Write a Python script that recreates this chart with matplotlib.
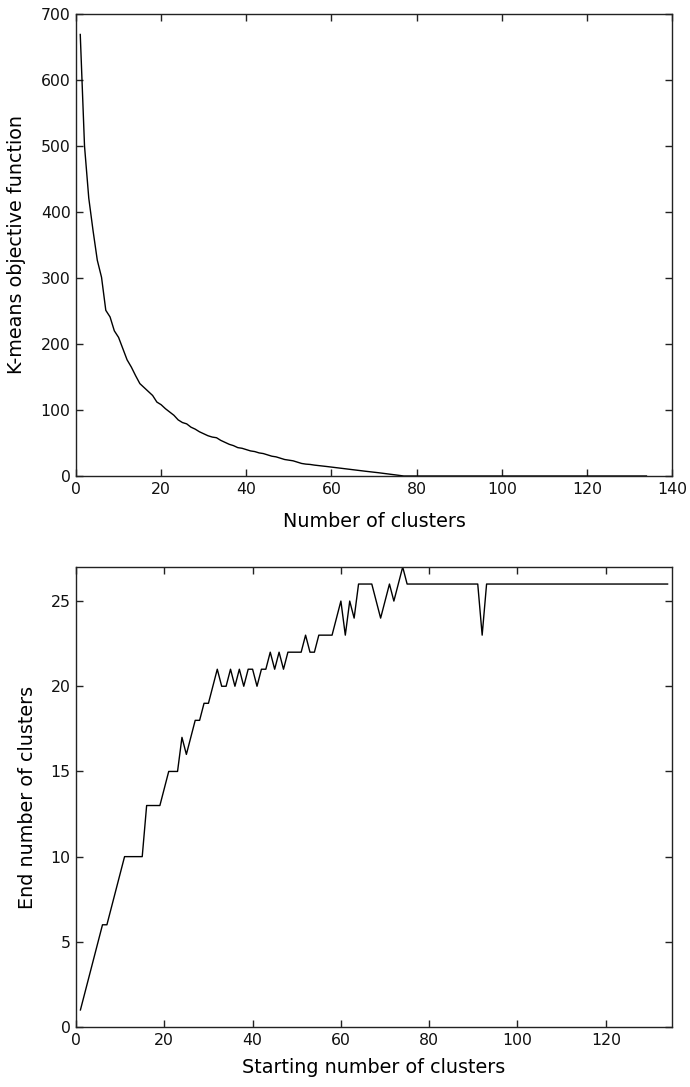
import matplotlib
matplotlib.use("Agg")
import matplotlib.pyplot as plt
import numpy as np

# Top chart: K-means objective vs number of clusters
n_clusters = list(range(1, 135))
objective_head = [669, 500, 421, 372, 327, 301, 251, 241, 220, 210,
                  193, 176, 165, 152, 140, 134, 128, 122, 112, 108,
                  102, 97, 92, 85, 81, 79, 74, 71, 67, 64,
                  61, 59, 58, 54, 51, 48, 46, 43, 42, 40,
                  38, 37, 35, 34, 32, 30, 29, 27, 25, 24,
                  23, 21, 19, 18, 17.5, 16.5, 15.8, 15, 14.3, 13.5,
                  12.7, 12, 11.2, 10.4, 9.6, 8.8, 8, 7.2, 6.5, 5.7,
                  5, 4.2, 3.4, 2.6, 1.7, 0.8]
objective = objective_head + [0] * (len(n_clusters) - len(objective_head))

# Bottom chart: end number vs starting number of clusters
start_clusters = list(range(1, 135))
end_head = [1, 2, 3, 4, 5, 6, 6, 7, 8, 9,
            10, 10, 10, 10, 10, 13, 13, 13, 13, 14,
            15, 15, 15, 17, 16, 17, 18, 18, 19, 19,
            20, 21, 20, 20, 21, 20, 21, 20, 21, 21,
            20, 21, 21, 22, 21, 22, 21, 22, 22, 22,
            22, 23, 22, 22, 23, 23, 23, 23, 24, 25,
            23, 25, 24, 26, 26, 26, 26, 25, 24, 25,
            26, 25, 26, 27]
end_mid = [26] * 17   # x = 75..91
end_dip = [23]        # x = 92
end_tail = [26] * (len(start_clusters) - len(end_head) - len(end_mid) - len(end_dip))
end_clusters = end_head + end_mid + end_dip + end_tail

plt.rcParams['font.family'] = ['DejaVu Sans']
W, H = 690, 1087
dpi = 100
fig = plt.figure(figsize=(W / dpi, H / dpi), dpi=dpi, facecolor='white')

def style(ax):
    ax.tick_params(direction='in', top=True, right=True, length=5, width=1,
                   labelsize=11.3, pad=4, color='#222222', labelcolor='#111111')
    for s in ax.spines.values():
        s.set_linewidth(1.0)
        s.set_color('#222222')

ax1 = fig.add_axes([76 / W, 1 - 476 / H, 596 / W, 462 / H])
ax1.plot(n_clusters, objective, color='black', lw=1.0)
ax1.set_xlim(0, 140)
ax1.set_ylim(0, 700)
ax1.set_xticks(range(0, 141, 20))
ax1.set_yticks(range(0, 701, 100))
ax1.set_xlabel('Number of clusters', fontsize=13.8, labelpad=11)
ax1.set_ylabel('K-means objective function', fontsize=13.8, labelpad=10.5)
style(ax1)

ax2 = fig.add_axes([76 / W, 1 - 1027 / H, 596 / W, 460 / H])
ax2.plot(start_clusters, end_clusters, color='black', lw=1.0)
ax2.set_xlim(0, 135)
ax2.set_ylim(0, 27)
ax2.set_xticks(range(0, 121, 20))
ax2.set_yticks(range(0, 26, 5))
ax2.set_xlabel('Starting number of clusters', fontsize=13.8, labelpad=7.5)
ax2.set_ylabel('End number of clusters', fontsize=13.8, labelpad=9.5)
style(ax2)

fig.savefig('out.png', dpi=dpi, facecolor='white')
